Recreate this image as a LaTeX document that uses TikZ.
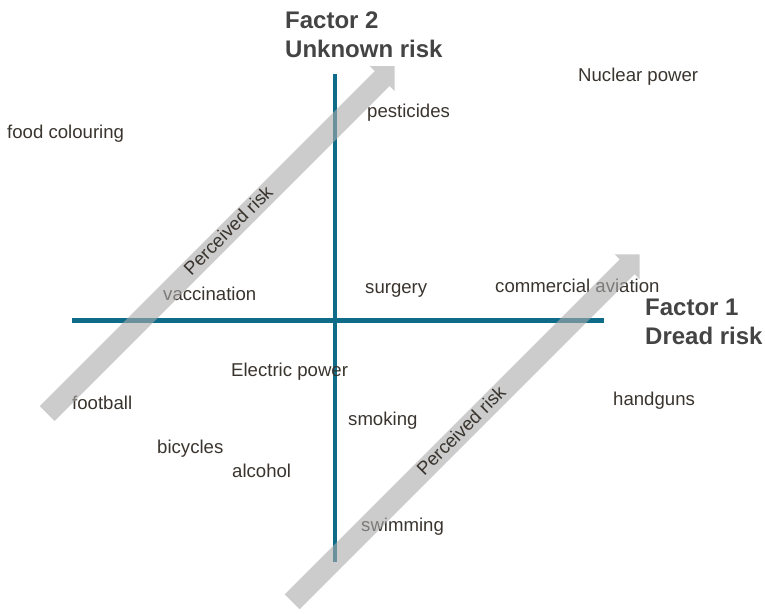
\documentclass[tikz,border=0pt]{standalone}
\usepackage{fontspec}
\setmainfont{Liberation Sans}
\usetikzlibrary{shapes.arrows}
\definecolor{axiscol}{RGB}{14,108,136}
\definecolor{labelcol}{RGB}{58,52,46}
\definecolor{headcol}{RGB}{68,68,68}
\definecolor{bandcol}{RGB}{170,170,170}
\begin{document}
\begin{tikzpicture}[x=1pt,y=-1pt,
  axisline/.style={draw=axiscol, line width=4.2pt},
  item/.style={anchor=base west, inner sep=0pt, text=labelcol,
    font=\fontsize{18.6}{22}\selectfont},
  factor/.style={anchor=base west, inner sep=0pt, align=left, text=headcol,
    font=\fontsize{24}{29}\selectfont\bfseries},
  riskband/.style={single arrow, single arrow tip angle=90,
    single arrow head extend=7.25pt, single arrow head indent=0pt,
    minimum height=491.4pt, text height=15pt, text depth=5.5pt,
    inner ysep=0pt, inner xsep=0pt, rotate=45,
    fill=bandcol, fill opacity=0.6, text opacity=1, text=labelcol,
    font=\fontsize{18.6}{22}\selectfont}]
  \useasboundingbox (0,0) rectangle (765,613);

  % axes
  \coordinate (xl) at (72,320.5);
  \coordinate (xr) at (604,320.5);
  \coordinate (yt) at (335,74);
  \coordinate (yb) at (335,562);
  \draw[axisline] (xl) -- (xr);
  \draw[axisline] (yt) -- (yb);

  % axis titles (anchored at the baseline of their last line)
  \node[factor] (f2) at (285,57) {Factor 2\\Unknown risk};
  \node[factor] (f1) at (645,344) {Factor 1\\Dread risk};

  % hazards
  \node[item] (food)     at (7,138)   {food colouring};
  \node[item] (pest)     at (367,117) {pesticides};
  \node[item] (nuclear)  at (578,81)  {Nuclear power};
  \node[item] (vacc)     at (163,300) {vaccination};
  \node[item] (surgery)  at (365,293) {surgery};
  \node[item] (aviation) at (495,292) {commercial aviation};
  \node[item] (elec)     at (231,376) {Electric power};
  \node[item] (football) at (72,409)  {football};
  \node[item] (smoking)  at (348,425) {smoking};
  \node[item] (bikes)    at (157,453) {bicycles};
  \node[item] (alcohol)  at (232,477) {alcohol};
  \node[item] (swim)     at (361,531) {swimming};
  \node[item] (guns)     at (613,405) {handguns};

  % perceived-risk bands (the upper label sits a little towards the tip)
  \node[riskband] (band1) at (217.25,243.5) {\hspace*{34pt}Perceived risk};
  \node[riskband] (band2) at (462.25,431.75) {Perceived risk};
\end{tikzpicture}
\end{document}
